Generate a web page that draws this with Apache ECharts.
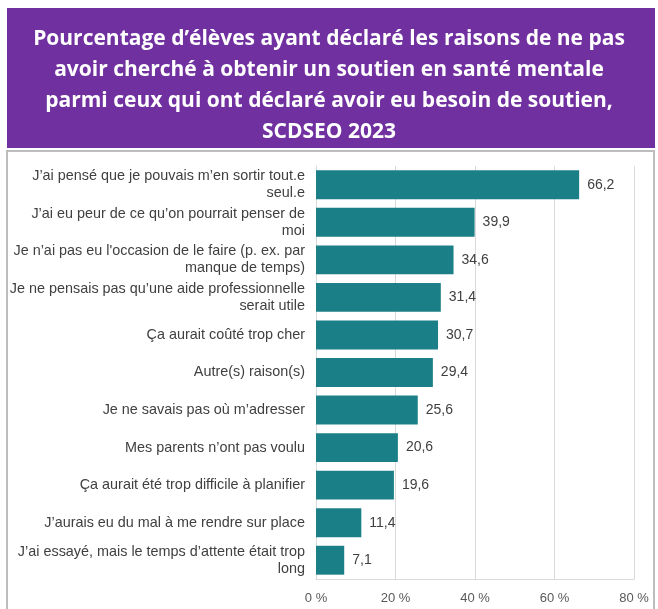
<!DOCTYPE html>
<html>
<head>
<meta charset="utf-8">
<script src="https://cdn.jsdelivr.net/npm/echarts@6/dist/echarts.min.js"></script>
<style>
  html, body { margin: 0; padding: 0; background: #fff; }
  #chart { width: 658px; height: 609px; }
</style>
</head>
<body>
<div id="chart"></div>
<script>
// categories, top to bottom as shown
const categories = [
  'J\u2019ai pensé que je pouvais m\u2019en sortir tout.e\nseul.e',
  'J\u2019ai eu peur de ce qu\u2019on pourrait penser de\nmoi',
  'Je n\u2019ai pas eu l\'occasion de le faire (p. ex. par\nmanque de temps)',
  'Je ne pensais pas qu\u2019une aide professionnelle\nserait utile',
  'Ça aurait coûté trop cher',
  'Autre(s) raison(s)',
  'Je ne savais pas où m\u2019adresser',
  'Mes parents n\u2019ont pas voulu',
  'Ça aurait été trop difficile à planifier',
  'J\u2019aurais eu du mal à me rendre sur place',
  'J\u2019ai essayé, mais le temps d\u2019attente était trop\nlong'
]
const values = [66.2, 39.9, 34.6, 31.4, 30.7, 29.4, 25.6, 20.6, 19.6, 11.4, 7.1]
const xTicks = [0, 20, 40, 60, 80]

const titleText = 'Pourcentage d\u2019élèves ayant déclaré les raisons de ne pas\navoir cherché à obtenir un soutien en santé mentale\nparmi ceux qui ont déclaré avoir eu besoin de soutien,\nSCDSEO 2023'

const chart = echarts.init(document.getElementById('chart'))

chart.setOption({
  animation: false,
  title: {
    text: titleText,
    left: 'center',
    top: 19,
    textStyle: {
      color: '#fff',
      fontFamily: 'Open Sans',
      fontWeight: 'bold',
      fontSize: 21,
      lineHeight: 31
    }
  },
  graphic: [
    {
      type: 'rect',
      z: -1,
      shape: { x: 7, y: 8, width: 648, height: 140 },
      style: { fill: '#7030A0' }
    },
    {
      type: 'rect',
      z: -1,
      shape: { x: 7, y: 151, width: 647, height: 470 },
      style: { fill: '#fff', stroke: '#BDBDBD', lineWidth: 2 }
    }
  ],
  grid: {
    left: 316,
    right: 24,
    top: 166,
    bottom: 30
  },
  xAxis: {
    type: 'value',
    min: 0,
    max: 80,
    interval: 20,
    axisLine: { show: true, lineStyle: { color: '#D9D9D9' } },
    axisTick: { show: false },
    splitLine: { lineStyle: { color: '#D9D9D9' } },
    axisLabel: {
      color: '#595959',
      fontFamily: 'Liberation Sans',
      fontSize: 13,
      margin: 13,
      formatter: v => xTicks.includes(v) ? v + ' %' : ''
    }
  },
  yAxis: {
    type: 'category',
    inverse: true,
    data: categories,
    axisLine: { show: true, lineStyle: { color: '#D9D9D9' } },
    axisTick: { show: false },
    axisLabel: {
      color: '#404040',
      fontFamily: 'Liberation Sans',
      fontSize: 14.4,
      lineHeight: 17,
      margin: 11,
      align: 'right'
    }
  },
  series: [{
    type: 'bar',
    data: values,
    barCategoryGap: '23%',
    itemStyle: { color: '#1B7F87' },
    label: {
      show: true,
      position: 'right',
      distance: 8,
      color: '#404040',
      fontFamily: 'Liberation Sans',
      fontSize: 14,
      formatter: p => p.value.toFixed(1).replace('.', ',')
    }
  }]
})
</script>
</body>
</html>
